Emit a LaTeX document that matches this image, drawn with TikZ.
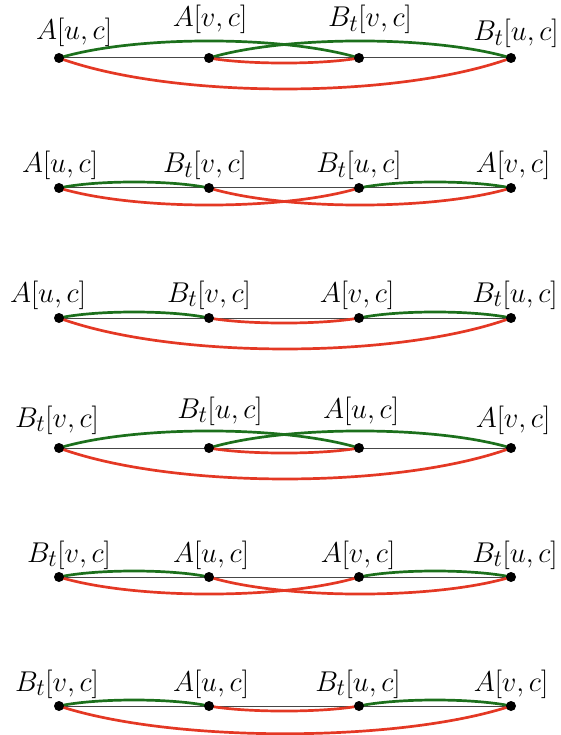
\documentclass[tikz,border=0pt]{standalone}
\usepackage{graphicx}
\usepackage{tikz}
\definecolor{grn}{RGB}{28,112,28}
\definecolor{rd}{RGB}{228,56,36}
\definecolor{ln}{RGB}{70,70,70}
\newcommand{\lbltxt}[1]{\scalebox{1.15}{$#1$}}
\tikzset{
  garc/.style={draw=grn,line width=2.7pt},
  rarc/.style={draw=rd,line width=2.7pt},
  base/.style={draw=ln,line width=1pt},
  dotn/.style={circle,fill=black,inner sep=0pt,minimum size=10pt},
  lab/.style={anchor=base,inner sep=0pt,font=\Huge}
}
\begin{document}
\begin{tikzpicture}[x=1pt,y=-1pt]
\useasboundingbox (0,0) rectangle (561,735);
% ---------- Row 1 ----------
\coordinate (r1a) at (59,58); \coordinate (r1b) at (209,58);
\coordinate (r1c) at (359,58); \coordinate (r1d) at (511,58);
\draw[base] (r1a) -- (r1d);
\draw[garc] (r1a) .. controls +(75,-22.7) and +(-75,-22.7) .. (r1c);
\draw[garc] (r1b) .. controls +(75.5,-22.7) and +(-75.5,-22.7) .. (r1d);
\draw[rarc] (r1b) .. controls +(37.5,6.7) and +(-37.5,6.7) .. (r1c);
\draw[rarc] (r1a) .. controls +(113,41.3) and +(-113,41.3) .. (r1d);
\foreach \n in {r1a,r1b,r1c,r1d} \node[dotn] (d\n) at (\n) {};
\node[lab] (l1a) at (74,40) {\lbltxt{A[u,c]}};
\node[lab] (l1b) at (210,27) {\lbltxt{A[v,c]}};
\node[lab] (l1c) at (370,27) {\lbltxt{B_t[v,c]}};
\node[lab] (l1d) at (516,41) {\lbltxt{B_t[u,c]}};
% ---------- Row 2 ----------
\coordinate (r2a) at (59,188); \coordinate (r2b) at (209,188);
\coordinate (r2c) at (359,188); \coordinate (r2d) at (511,188);
\draw[base] (r2a) -- (r2d);
\draw[garc] (r2a) .. controls +(37.5,-8) and +(-37.5,-8) .. (r2b);
\draw[garc] (r2c) .. controls +(38,-8) and +(-38,-8) .. (r2d);
\draw[rarc] (r2a) .. controls +(75,22.7) and +(-75,22.7) .. (r2c);
\draw[rarc] (r2b) .. controls +(75.5,22.7) and +(-75.5,22.7) .. (r2d);
\foreach \n in {r2a,r2b,r2c,r2d} \node[dotn] (d\n) at (\n) {};
\node[lab] (l2a) at (60,173) {\lbltxt{A[u,c]}};
\node[lab] (l2b) at (205,173) {\lbltxt{B_t[v,c]}};
\node[lab] (l2c) at (359,173) {\lbltxt{B_t[u,c]}};
\node[lab] (l2d) at (513,173) {\lbltxt{A[v,c]}};
% ---------- Row 3 ----------
\coordinate (r3a) at (59,318); \coordinate (r3b) at (209,318);
\coordinate (r3c) at (359,318); \coordinate (r3d) at (511,318);
\draw[base] (r3a) -- (r3d);
\draw[garc] (r3a) .. controls +(37.5,-8) and +(-37.5,-8) .. (r3b);
\draw[rarc] (r3b) .. controls +(37.5,6.7) and +(-37.5,6.7) .. (r3c);
\draw[garc] (r3c) .. controls +(38,-8) and +(-38,-8) .. (r3d);
\draw[rarc] (r3a) .. controls +(113,41.3) and +(-113,41.3) .. (r3d);
\foreach \n in {r3a,r3b,r3c,r3d} \node[dotn] (d\n) at (\n) {};
\node[lab] (l3a) at (48,302) {\lbltxt{A[u,c]}};
\node[lab] (l3b) at (209,302) {\lbltxt{B_t[v,c]}};
\node[lab] (l3c) at (357,302) {\lbltxt{A[v,c]}};
\node[lab] (l3d) at (515,302) {\lbltxt{B_t[u,c]}};
% ---------- Row 4 ----------
\coordinate (r4a) at (59,448); \coordinate (r4b) at (209,448);
\coordinate (r4c) at (359,448); \coordinate (r4d) at (511,448);
\draw[base] (r4a) -- (r4d);
\draw[garc] (r4a) .. controls +(75,-22.7) and +(-75,-22.7) .. (r4c);
\draw[garc] (r4b) .. controls +(75.5,-22.7) and +(-75.5,-22.7) .. (r4d);
\draw[rarc] (r4b) .. controls +(37.5,6.7) and +(-37.5,6.7) .. (r4c);
\draw[rarc] (r4a) .. controls +(113,41.3) and +(-113,41.3) .. (r4d);
\foreach \n in {r4a,r4b,r4c,r4d} \node[dotn] (d\n) at (\n) {};
\node[lab] (l4a) at (57,427) {\lbltxt{B_t[v,c]}};
\node[lab] (l4b) at (220,418) {\lbltxt{B_t[u,c]}};
\node[lab] (l4c) at (361,418) {\lbltxt{A[u,c]}};
\node[lab] (l4d) at (513,427) {\lbltxt{A[v,c]}};
% ---------- Row 5 ----------
\coordinate (r5a) at (59,577); \coordinate (r5b) at (209,577);
\coordinate (r5c) at (359,577); \coordinate (r5d) at (511,577);
\draw[base] (r5a) -- (r5d);
\draw[garc] (r5a) .. controls +(37.5,-8) and +(-37.5,-8) .. (r5b);
\draw[garc] (r5c) .. controls +(38,-8) and +(-38,-8) .. (r5d);
\draw[rarc] (r5a) .. controls +(75,22.7) and +(-75,22.7) .. (r5c);
\draw[rarc] (r5b) .. controls +(75.5,22.7) and +(-75.5,22.7) .. (r5d);
\foreach \n in {r5a,r5b,r5c,r5d} \node[dotn] (d\n) at (\n) {};
\node[lab] (l5a) at (69,562) {\lbltxt{B_t[v,c]}};
\node[lab] (l5b) at (211,562) {\lbltxt{A[u,c]}};
\node[lab] (l5c) at (358,562) {\lbltxt{A[v,c]}};
\node[lab] (l5d) at (515,562) {\lbltxt{B_t[u,c]}};
% ---------- Row 6 ----------
\coordinate (r6a) at (59,706); \coordinate (r6b) at (209,706);
\coordinate (r6c) at (359,706); \coordinate (r6d) at (511,706);
\draw[base] (r6a) -- (r6d);
\draw[garc] (r6a) .. controls +(37.5,-8) and +(-37.5,-8) .. (r6b);
\draw[rarc] (r6b) .. controls +(37.5,6.7) and +(-37.5,6.7) .. (r6c);
\draw[garc] (r6c) .. controls +(38,-8) and +(-38,-8) .. (r6d);
\draw[rarc] (r6a) .. controls +(113,37) and +(-113,37) .. (r6d);
\foreach \n in {r6a,r6b,r6c,r6d} \node[dotn] (d\n) at (\n) {};
\node[lab] (l6a) at (57,691) {\lbltxt{B_t[v,c]}};
\node[lab] (l6b) at (211,691) {\lbltxt{A[u,c]}};
\node[lab] (l6c) at (358,691) {\lbltxt{B_t[u,c]}};
\node[lab] (l6d) at (511,691) {\lbltxt{A[v,c]}};
\end{tikzpicture}
\end{document}
